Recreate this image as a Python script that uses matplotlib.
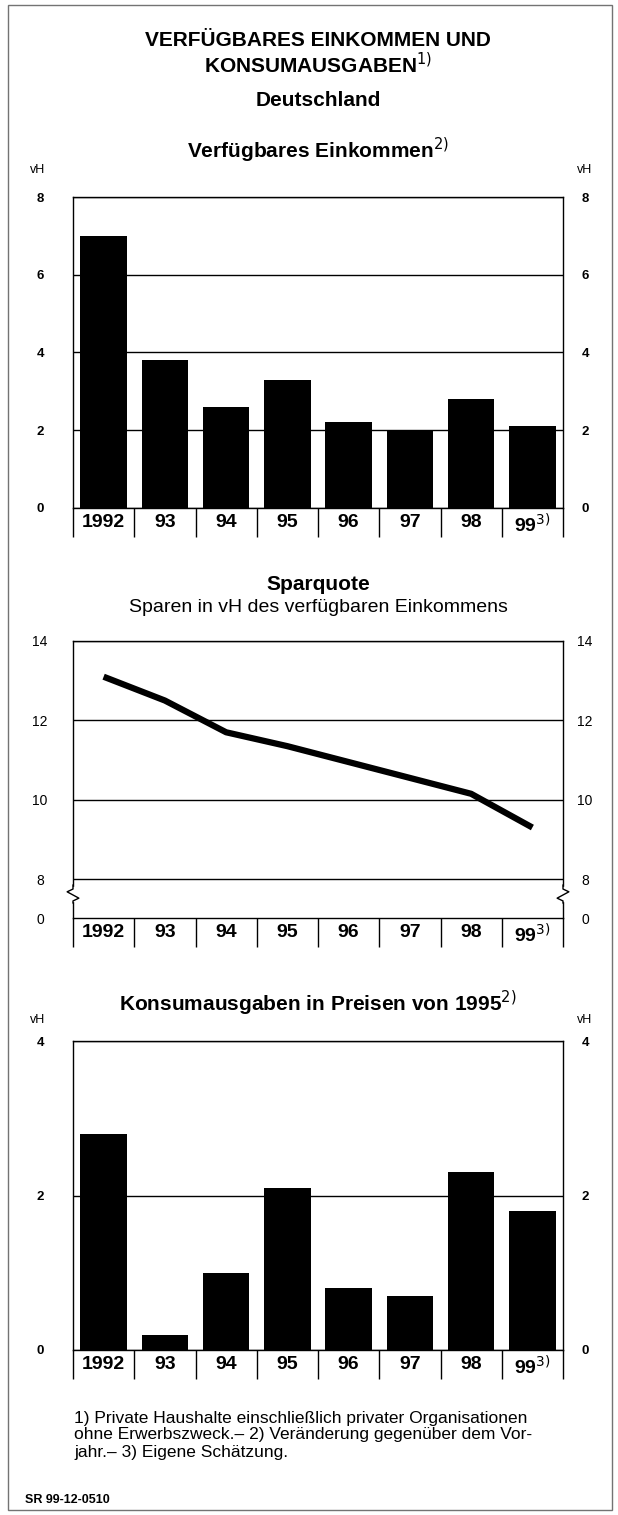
"""Verfügbares Einkommen und Konsumausgaben, Deutschland (three stacked panels)."""

import matplotlib

matplotlib.use("Agg")
import matplotlib.pyplot as plt  # noqa: E402
import matplotlib.transforms as mtransforms  # noqa: E402
from matplotlib.patches import Rectangle  # noqa: E402

plt.rcParams["font.family"] = ["Liberation Sans", "DejaVu Sans"]

# --- data -------------------------------------------------------------------
years = ["1992", "93", "94", "95", "96", "97", "98", r"99$^{3)}$"]
einkommen = [7.0, 3.8, 2.6, 3.3, 2.2, 2.0, 2.8, 2.1]
sparquote = [13.1, 12.5, 11.7, 11.35, 10.95, 10.55, 10.15, 9.3]
konsum = [2.8, 0.2, 1.0, 2.1, 0.8, 0.7, 2.3, 1.8]

ticks_einkommen = [0, 2, 4, 6, 8]
ticks_spar = [8, 10, 12, 14]
ticks_konsum = [0, 2, 4]

W, H = 618, 1515
fig = plt.figure(figsize=(W / 100, H / 100), dpi=100)

LEFT_PAD = 33   # px from axes edge to centre of left tick labels
RIGHT_PAD = 22  # px from axes edge to centre of right tick labels


def fx(px):
    return px / W


def fy(py):
    return 1 - py / H


def make_axes(top, bottom):
    return fig.add_axes([fx(73), fy(bottom), fx(563) - fx(73), fy(top) - fy(bottom)])


def style_axes(ax, yticks, ylabels=None, tick_weight="bold", tick_size=9.5):
    n = len(years)
    ax.set_xlim(-0.5, n - 0.5)
    # category boundaries drawn as long outward ticks -> the boxed label row
    ax.set_xticks([i - 0.5 for i in range(n + 1)])
    ax.set_xticklabels([])
    ax.tick_params(axis="x", which="major", length=21, width=1.0, direction="out")
    ax.set_xticks(range(n), minor=True)
    ax.set_xticklabels(years, minor=True, fontsize=14, fontweight="bold")
    ax.tick_params(axis="x", which="minor", length=0, pad=4)

    ax.set_yticks(yticks)
    ax.set_yticklabels(ylabels if ylabels else [str(t) for t in yticks])
    ax.tick_params(axis="y", length=0, labelright=True, labelsize=tick_size,
                   pad=LEFT_PAD * 0.72)
    shift = mtransforms.ScaledTranslation((LEFT_PAD - RIGHT_PAD) / -100, 0,
                                          fig.dpi_scale_trans)
    for t in ax.yaxis.get_major_ticks():
        for lbl in (t.label1, t.label2):
            lbl.set_ha("center")
            lbl.set_fontweight(tick_weight)
        t.label2.set_transform(t.label2.get_transform() + shift)

    ax.grid(axis="y", color="black", linewidth=1.0)
    ax.set_axisbelow(True)
    for sp in ax.spines.values():
        sp.set_linewidth(1.0)


# --- panel 1: verfügbares Einkommen ---------------------------------------
ax1 = make_axes(197, 508)
ax1.bar(range(len(years)), einkommen, width=0.76, color="black", zorder=3)
ax1.set_ylim(0, 8)
style_axes(ax1, ticks_einkommen)

# --- panel 2: Sparquote (broken axis, 8 ... 0) ----------------------------
ax2 = make_axes(641, 918)
ax2.plot(range(len(years)), sparquote, color="black", linewidth=4.5,
         solid_capstyle="butt", solid_joinstyle="round", zorder=3)
ax2.set_ylim(7.02, 14)
style_axes(ax2, [7.02] + ticks_spar, ["0"] + [str(t) for t in ticks_spar],
           tick_weight="normal", tick_size=10)
ax2.yaxis.get_gridlines()[0].set_visible(False)
# axis break marks on both side spines
tr = mtransforms.blended_transform_factory(ax2.transAxes, ax2.transData)
for xa, sgn in ((0.0, -1), (1.0, 1)):
    ax2.add_patch(Rectangle((xa - 0.008, 7.45), 0.016, 0.35, transform=tr,
                            color="white", clip_on=False, zorder=5))
    ax2.plot([xa, xa, xa + 0.012 * sgn, xa - 0.012 * sgn, xa, xa],
             [7.85, 7.75, 7.68, 7.52, 7.45, 7.4], transform=tr, color="black",
             linewidth=1.0, clip_on=False, zorder=6)

# --- panel 3: Konsumausgaben ----------------------------------------------
ax3 = make_axes(1041, 1350)
ax3.bar(range(len(years)), konsum, width=0.76, color="black", zorder=3)
ax3.set_ylim(0, 4)
style_axes(ax3, ticks_konsum)

# --- texts ------------------------------------------------------------------
cx = fx(318)
fig.text(cx, fy(40), "VERFÜGBARES EINKOMMEN UND", ha="center", va="center",
         fontsize=15, fontweight="bold")
fig.text(cx, fy(65), r"KONSUMAUSGABEN$^{1)}$", ha="center", va="center",
         fontsize=15, fontweight="bold")
fig.text(cx, fy(100), "Deutschland", ha="center", va="center", fontsize=15,
         fontweight="bold")
fig.text(cx, fy(150), r"Verfügbares Einkommen$^{2)}$", ha="center", va="center",
         fontsize=15, fontweight="bold")
fig.text(cx, fy(585), "Sparquote", ha="center", va="center", fontsize=15,
         fontweight="bold")
fig.text(cx, fy(607), "Sparen in vH des verfügbaren Einkommens", ha="center",
         va="center", fontsize=14)
fig.text(cx, fy(1003), r"Konsumausgaben in Preisen von 1995$^{2)}$", ha="center",
         va="center", fontsize=15, fontweight="bold")
for yy in (170, 1020):
    fig.text(fx(38), fy(yy), "vH", ha="center", va="center", fontsize=9)
    fig.text(fx(585), fy(yy), "vH", ha="center", va="center", fontsize=9)

footnote = [
    "1) Private Haushalte einschließlich privater Organisationen",
    "ohne Erwerbszweck.– 2) Veränderung gegenüber dem Vor-",
    "jahr.– 3) Eigene Schätzung.",
]
for i, line in enumerate(footnote):
    fig.text(fx(74), fy(1418 + 17 * i), line, ha="left", va="center", fontsize=12.5)
fig.text(fx(25), fy(1500), "SR 99-12-0510", ha="left", va="center", fontsize=9,
         fontweight="bold")

# thin frame around the whole figure
fig.add_artist(Rectangle((fx(8), fy(1510)), fx(612) - fx(8), fy(5) - fy(1510),
                         transform=fig.transFigure, fill=False, edgecolor="0.45",
                         linewidth=1.0))

fig.savefig("out.png", dpi=100)
